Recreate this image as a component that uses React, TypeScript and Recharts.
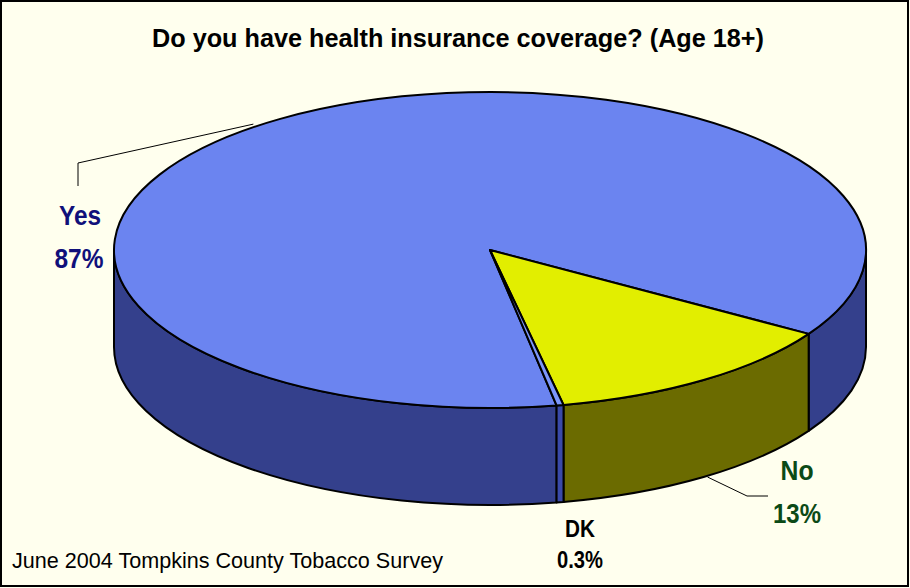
import { PieChart, Pie } from "recharts";

const categories = ["Yes", "No", "DK"];
const percents = [87, 13, 0.3];
const percentLabels = ["87%", "13%", "0.3%"];

const TOP_COLORS = ["#6B84F0", "#E2EE00", "#7C96FA"];
const SIDE_COLORS = ["#34408C", "#6B6B00", "#3A4AA8"];
const LABEL_COLORS = ["#10107A", "#0B4A16", "#000000"];

const W = 910;
const H = 588;
const CX = 490;
const CY = 250;
const RX = 376;
const RY = 158;
const DEPTH = 97;
const RAD = Math.PI / 180;
const FONT = "'Liberation Sans', Arial, sans-serif";

const data = categories.map((name, i) => ({
  name,
  value: percents[i],
  top: TOP_COLORS[i],
  side: SIDE_COLORS[i],
}));

// point on the top ellipse for an angle (recharts convention: ccw, y up)
const pt = (cx: number, cy: number, a: number, dy = 0) => [
  cx + RX * Math.cos(a * RAD),
  cy - RY * Math.sin(a * RAD) + dy,
];

function Slice3D(props: any) {
  const { cx, cy, startAngle, endAngle, payload } = props;
  const lo = Math.min(startAngle, endAngle);
  const hi = Math.max(startAngle, endAngle);
  const sides: string[] = [];
  // front half of the rim lies between -180 and 0 (mod 360)
  for (let k = -3; k <= 3; k++) {
    const a1 = Math.max(lo, -180 + 360 * k);
    const a2 = Math.min(hi, 360 * k);
    if (a2 - a1 > 0.01) {
      const [x1, y1] = pt(cx, cy, a2);
      const [x2, y2] = pt(cx, cy, a1);
      sides.push(
        `M${x1},${y1} A${RX},${RY} 0 0 1 ${x2},${y2} L${x2},${y2 + DEPTH} A${RX},${RY} 0 0 0 ${x1},${y1 + DEPTH} Z`
      );
    }
  }
  const [sx, sy] = pt(cx, cy, startAngle);
  const [ex, ey] = pt(cx, cy, endAngle);
  const d = endAngle - startAngle;
  const large = Math.abs(d) > 180 ? 1 : 0;
  const sweep = d < 0 ? 1 : 0;
  const topPath = `M${cx},${cy} L${sx},${sy} A${RX},${RY} 0 ${large} ${sweep} ${ex},${ey} Z`;
  return (
    <g>
      {sides.map((p, i) => (
        <path key={i} d={p} fill={payload.side} stroke="#000" strokeWidth={2} strokeLinejoin="round" />
      ))}
      <path d={topPath} fill={payload.top} stroke="#000" strokeWidth={2} strokeLinejoin="round" />
    </g>
  );
}

function Txt({ x, y, size, w, color, children }: any) {
  return (
    <text
      x={x}
      y={y}
      textAnchor="middle"
      fontFamily={FONT}
      fontWeight="bold"
      fontSize={size}
      fill={color}
      textLength={w}
      lengthAdjust="spacingAndGlyphs"
    >
      {children}
    </text>
  );
}

function SliceLabel(props: any) {
  const { cx, cy, midAngle, index } = props;
  const name = categories[index];
  const pct = percentLabels[index];
  const color = LABEL_COLORS[index];
  if (index === 0) {
    const [lx, ly] = pt(cx, cy, midAngle);
    return (
      <g>
        <polyline points={`${lx - 26},${ly + 5} 78,163 78,186`} fill="none" stroke="#000" strokeWidth={1} />
        <Txt x={80} y={225} size={28} w={42} color={color}>{name}</Txt>
        <Txt x={79} y={268} size={28} w={49} color={color}>{pct}</Txt>
      </g>
    );
  }
  if (index === 1) {
    const [lx, ly] = pt(cx, cy, midAngle, DEPTH);
    return (
      <g>
        <polyline points={`${lx + 4},${ly} 747,496 768,496`} fill="none" stroke="#000" strokeWidth={1} />
        <Txt x={797} y={480} size={28} w={33} color={color}>{name}</Txt>
        <Txt x={797} y={523} size={28} w={48} color={color}>{pct}</Txt>
      </g>
    );
  }
  return (
    <g>
      <Txt x={580} y={537} size={23} w={30} color={color}>{name}</Txt>
      <Txt x={580} y={568} size={23} w={46} color={color}>{pct}</Txt>
    </g>
  );
}

export default function App() {
  return (
    <div style={{ position: "absolute", left: 0, top: 0, width: W, height: H, background: "#FFFFEE" }}>
      <svg width={W} height={H} style={{ position: "absolute", left: 0, top: 0 }}>
        <rect x={1} y={1} width={W - 3} height={H - 3} fill="none" stroke="#000" strokeWidth={2} />
        <text
          x={458}
          y={47}
          textAnchor="middle"
          fontFamily={FONT}
          fontWeight="bold"
          fontSize={26}
          textLength={612}
          lengthAdjust="spacingAndGlyphs"
        >
          Do you have health insurance coverage? (Age 18+)
        </text>
        <text
          x={12}
          y={568}
          fontFamily={FONT}
          fontSize={22}
          textLength={431}
          lengthAdjust="spacingAndGlyphs"
        >
          June 2004 Tompkins County Tobacco Survey
        </text>
      </svg>
      <div style={{ position: "absolute", left: 0, top: 0 }}>
        <PieChart width={W} height={H} margin={{ top: 0, right: 0, bottom: 0, left: 0 }}>
          <Pie
            data={data}
            dataKey="value"
            nameKey="name"
            cx={CX}
            cy={CY}
            innerRadius={0}
            outerRadius={RX}
            startAngle={-79.8}
            endAngle={-439.8}
            paddingAngle={0}
            shape={Slice3D}
            label={SliceLabel}
            labelLine={false}
            isAnimationActive={false}
          />
        </PieChart>
      </div>
    </div>
  );
}
